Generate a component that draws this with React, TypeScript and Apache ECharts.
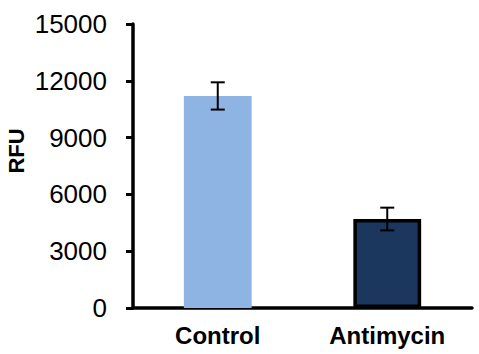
import React, { useEffect, useRef } from "react";
import * as echarts from "echarts";

const categories = ["Control", "Antimycin"];
const values = [11200, 4700];
const errors = [720, 600];
const yTicks = [0, 3000, 6000, 9000, 12000, 15000];
const yTitle = "RFU";

const FONT = "'Liberation Sans', Arial, sans-serif";

export default function App() {
  const ref = useRef<HTMLDivElement>(null);
  useEffect(() => {
    if (!ref.current) return;
    const chart = echarts.init(ref.current, null, { renderer: "svg" });
    const errData = values.map((v, i) => [i, v - errors[i], v + errors[i]]);
    chart.setOption({
      animation: false,
      grid: { left: 133, right: 7, top: 24, bottom: 46, containLabel: false, outerBoundsMode: "none" },
      graphic: [
        {
          type: "text",
          x: 16,
          y: 151,
          rotation: Math.PI / 2,
          style: {
            text: yTitle,
            fill: "#000",
            font: `bold 22px ${FONT}`,
            textAlign: "center",
            textVerticalAlign: "middle",
          },
        },
      ],
      xAxis: {
        type: "category",
        data: categories,
        axisLine: { show: true, lineStyle: { color: "#000", width: 3.5 } },
        axisTick: { show: false },
        axisLabel: {
          color: "#000",
          fontFamily: FONT,
          fontWeight: "bold",
          fontSize: 24,
          margin: 15,
        },
      },
      yAxis: {
        type: "value",
        min: yTicks[0],
        max: yTicks[yTicks.length - 1],
        interval: 3000,
        axisLine: { show: true, lineStyle: { color: "#000", width: 3.5 } },
        axisTick: { show: true, length: 7, lineStyle: { color: "#000", width: 3 } },
        splitLine: { show: false },
        axisLabel: {
          color: "#000",
          fontFamily: FONT,
          fontSize: 26,
          margin: 26,
          formatter: (v: number) => String(v),
        },
      },
      series: [
        {
          type: "bar",
          barWidth: "40%",
          data: [
            { value: values[0], itemStyle: { color: "#8EB4E3" } },
            {
              value: values[1],
              itemStyle: { color: "#1B375E", borderColor: "#000", borderWidth: 3.5 },
            },
          ],
        },
        {
          type: "custom",
          data: errData,
          z: 10,
          renderItem: (params: any, api: any) => {
            const x = api.value(0);
            const lo = api.coord([x, api.value(1)]);
            const hi = api.coord([x, api.value(2)]);
            const half = 7;
            const style = { stroke: "#000", lineWidth: 2 };
            return {
              type: "group",
              children: [
                { type: "line", shape: { x1: hi[0], y1: hi[1], x2: lo[0], y2: lo[1] }, style },
                { type: "line", shape: { x1: hi[0] - half, y1: hi[1], x2: hi[0] + half, y2: hi[1] }, style },
                { type: "line", shape: { x1: lo[0] - half, y1: lo[1], x2: lo[0] + half, y2: lo[1] }, style },
              ],
            };
          },
        },
      ],
    });
    return () => chart.dispose();
  }, []);
  return (
    <div
      ref={ref}
      style={{ position: "fixed", left: 0, top: 0, width: 479, height: 354, background: "#fff" }}
    />
  );
}
